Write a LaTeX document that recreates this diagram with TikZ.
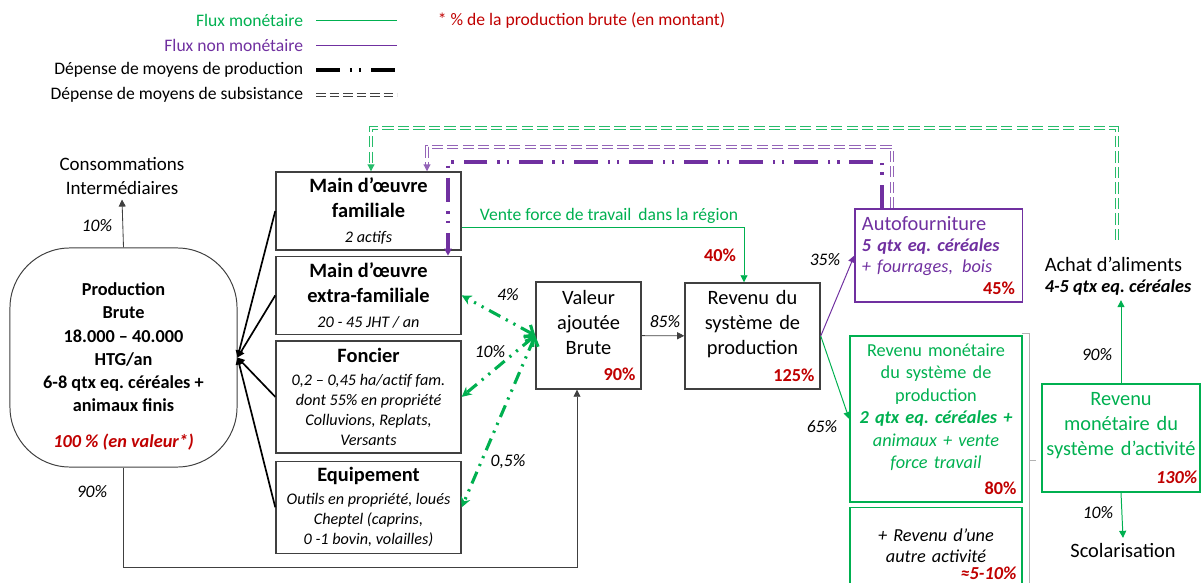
\documentclass[tikz,border=0pt]{standalone}
\usepackage{fontspec}
\setmainfont{Carlito}
\usetikzlibrary{arrows.meta,positioning}
\frenchspacing

\newcommand{\boxttl}[1]{{\fontsize{14.5}{17.5}\selectfont\bfseries\upshape #1}}
\newcommand{\boxsub}[1]{{\fontsize{11.5}{14}\selectfont\itshape #1}}

\begin{document}
\begin{tikzpicture}[
  x=0.025cm, y=-0.025cm,
  font=\fontsize{12.5}{16}\selectfont,
  >={Triangle[length=5pt,width=5pt]},
  box/.style={draw=bgray, line width=1pt, align=center, inner sep=3pt},
  lbox/.style={box, minimum width=4.625cm},
  gbox/.style={box, draw=mgreen, text=mgreen},
  pct/.style={font=\fontsize{12.5}{15}\selectfont\itshape},
  redpct/.style={text=mred, font=\fontsize{13}{15}\selectfont\bfseries},
  flow/.style={draw=bgray, line width=0.6pt},
  monet/.style={draw=mgreen, line width=0.7pt},
  nonmon/.style={draw=mpurple, line width=0.7pt},
  dpp/.style={line width=2.2pt, dash pattern=on 17pt off 7pt on 1.6pt off 5pt on 1.6pt off 7pt},
  dpg/.style={draw=mgreen, line width=2.2pt, dash pattern=on 9pt off 4.5pt on 1.6pt off 4.5pt on 1.6pt off 4.5pt, {Straight Barb[length=5pt,width=10pt]}-{Stealth[length=7pt,width=7pt]}},
  dps/.style={line width=0.8pt, double=white, double distance=1.4pt, dash pattern=on 8pt off 3pt}
]

\definecolor{mgreen}{RGB}{0,176,80}
\definecolor{mpurple}{RGB}{112,48,160}
\definecolor{mred}{RGB}{192,0,0}
\definecolor{bgray}{RGB}{64,64,64}

\useasboundingbox (0,0) rectangle (1203,583);

% Legend
\node[anchor=east, text=mgreen] (lgm) at (308,20) {Flux monétaire};
\node[anchor=east, text=mpurple] (lgn) at (308,45) {Flux non monétaire};
\node[anchor=east] (lgp) at (308,70) {Dépense de moyens de production};
\node[anchor=east] (lgs) at (308,95) {Dépense de moyens de subsistance};
\node[anchor=west, text=mred] (lgr) at (433,20) {* \% de la production brute (en montant)};
\coordinate (lgme) at (397,20);
\coordinate (lgne) at (397,45);
\coordinate (lgpe) at (397,70);
\coordinate (lgse) at (397,95);
\draw[monet] ([xshift=0.2cm]lgm.east) -- (lgme);
\draw[nonmon] ([xshift=0.2cm]lgn.east) -- (lgne);
\draw[dpp] ([xshift=0.2cm]lgp.east) -- (lgpe);
\draw[dps, draw=bgray, dash pattern=on 7pt off 2.6pt] ([xshift=0.2cm]lgs.east) -- (lgse);

% Production brute
\node[box, line width=0.7pt, rounded corners=1.5cm, minimum width=5.675cm, minimum height=5.475cm, font=\fontsize{13}{16.5}\selectfont\bfseries] (prod) at (123.5,357.5)
  {\rule{0pt}{22pt}Production\\Brute\\18.000 – 40.000\\HTG/an\\6-8 qtx eq. céréales +\\animaux finis\\[9pt]\textcolor{mred}{\itshape 100 \% (en valeur*)}};
\node[font=\fontsize{13.5}{17}\selectfont, align=center] (cons) at (122,176) {Consommations\\Intermédiaires};

% Moyens de production
\node[lbox, minimum height=1.95cm, font=\fontsize{14.5}{17.5}\selectfont] (mof) at (368.5,211)
  {\boxttl{Main d’œuvre}\\\boxttl{familiale}\\\boxsub{2 actifs}};
\node[lbox, minimum height=1.95cm, font=\fontsize{14.5}{17.5}\selectfont, below=0.125cm of mof] (mox)
  {\boxttl{Main d’œuvre}\\\boxttl{extra-familiale}\\\boxsub{20 - 45 JHT / an}};
\node[lbox, minimum height=2.8cm, font=\fontsize{11.5}{14.2}\selectfont\itshape, below=0.125cm of mox] (fon)
  {\boxttl{Foncier}\\[2pt]0,2 – 0,45 ha/actif fam.\\dont 55\% en propriété\\Colluvions, Replats,\\Versants};
\node[lbox, minimum height=2.3cm, font=\fontsize{11.5}{14.2}\selectfont\itshape, below=0.175cm of fon] (equ)
  {\boxttl{Equipement}\\[2pt]Outils en propriété, loués\\Cheptel (caprins,\\0 -1 bovin, volailles)};

% Valeur ajoutee et revenus
\node[box, inner xsep=4pt, text width=2.345cm, minimum height=2.675cm, font=\fontsize{14.5}{17.8}\selectfont] (vab) at (588.5,335.5)
  {Valeur\\ajoutée\\Brute\\[1pt]\hspace*{\fill}{\color{mred}\fontsize{13}{15}\selectfont\bfseries 90\%}};
\node[box, inner xsep=4pt, text width=3.095cm, minimum height=2.65cm, font=\fontsize{14.5}{17.8}\selectfont] (rev) at (752.5,336)
  {Revenu du\\système de\\production\\[1pt]\hspace*{\fill}{\color{mred}\fontsize{13}{15}\selectfont\bfseries 125\%}};
\node[box, draw=mpurple, text=mpurple, line width=0.8pt, align=left, inner xsep=5pt, text width=3.825cm, minimum height=2.325cm, font=\fontsize{13}{15}\selectfont] (auto) at (938.5,255.5)
  {{\fontsize{14.5}{15}\selectfont Autofourniture}\\\textbf{\itshape 5 qtx eq. céréales}\\{\itshape + fourrages,\, bois}\\\hspace*{\fill}{\color{mred}\bfseries 45\%}};
\node[gbox, inner xsep=4pt, text width=4.02cm, minimum height=4.15cm, font=\fontsize{13}{16}\selectfont] (rms) at (936,419)
  {Revenu monétaire\\du système de\\production\\\textbf{\itshape 2 qtx eq. céréales +}\\{\itshape animaux + vente}\\{\itshape force travail}\\[2pt]\hspace*{\fill}{\color{mred}\bfseries 80\%}};
\node[gbox, text=black, inner xsep=4pt, text width=4.02cm, minimum height=2.35cm, font=\fontsize{13}{15}\selectfont\itshape, below=0.1cm of rms] (aut)
  {+ Revenu d’une\\autre activité\\[-3pt]\hspace*{\fill}{\color{mred}\bfseries ≈5-10\%}};
\node[gbox, inner xsep=2pt, text width=3.81cm, minimum height=2.7cm, font=\fontsize{14.5}{17.8}\selectfont] (rsa) at (1121,438)
  {Revenu\\monétaire du\\système d’activité\\[2pt]\hspace*{\fill}{\color{mred}\fontsize{13}{15}\selectfont\bfseries\itshape 130\%}};
\node[align=left, font=\fontsize{14.5}{15}\selectfont] (achat) at (1118,276)
  {Achat d’aliments\\{\fontsize{13}{15}\selectfont\bfseries\itshape 4-5 qtx eq. céréales}};
\node[font=\fontsize{14.5}{17}\selectfont] (scol) at (1123,550) {Scolarisation};

% accolade
\draw[draw=gray!60, line width=0.5pt] (1022,333) -- (1029,333) -- (1029,583);
\draw[draw=gray!60, line width=0.5pt] (1029,460) -- (1036,460);

% labels
\node[pct] (p10a) at (97,226) {10\%};
\node[pct] (p90a) at (92,492) {90\%};
\node[pct] (p4) at (508,295) {4\%};
\node[pct] (p10b) at (490,352) {10\%};
\node[pct] (p05) at (508,462) {0,5\%};
\node[pct] (p85) at (665,322) {85\%};
\node[pct] (p35) at (825,260) {35\%};
\node[pct] (p65) at (822,427) {65\%};
\node[pct] (p90b) at (1097,355) {90\%};
\node[pct] (p10c) at (1098,513) {10\%};
\node[redpct] (p40) at (720,255) {40\%};
\node[text=mgreen] (vte) at (609,216) {Vente force de travail\, dans la région};

% flux
\coordinate (bl) at (577,567);
\coordinate (vfa) at (744,227);
\coordinate (pp1) at (882,162);
\coordinate (pp2) at (448,162);
\coordinate (pd1) at (892,147);
\coordinate (pd2) at (427,147);
\coordinate (gd0) at (1117,240);
\coordinate (gd1) at (1117,128);
\coordinate (gd2) at (371,128);

\draw[line width=1.2pt, ->] (mof.west) -- (prod.east);
\draw[line width=1.2pt, ->] (mox.west) -- (prod.east);
\draw[line width=1.2pt, ->] (fon.west) -- (prod.east);
\draw[line width=1.2pt, ->] (equ.west) -- (prod.east);
\draw[flow, ->] (prod.north) -- (cons.south);
\draw[flow, ->] (prod.south) |- (bl) -- (bl |- vab.south);
\draw[flow, ->] (vab) -- (rev);
\draw[dpg] (vab.west) -- (mox.east);
\draw[dpg] (vab.west) -- (fon.east);
\draw[dpg] (vab.west) -- (equ.east);
\draw[monet, ->] (mof.east |- vfa) -- (vfa) -- (vfa |- rev.north);
\draw[nonmon, ->] (rev.east) -- (auto.west);
\draw[monet, ->] (rev.east) -- (rms.west);
\draw[monet, ->] (rsa.north) -- (rsa.north |- achat.south);
\draw[monet, ->] (rsa.south) -- (scol.north);
\draw[dpp, draw=mpurple, ->] (pp1 |- auto.north) -- (pp1) -- (pp2) -- (pp2 |- mox.north);
\draw[dps, draw=mpurple!75, ->] (pd1 |- auto.north) -- (pd1) -- (pd2) -- (pd2 |- mof.north);
\draw[dps, draw=mgreen!85, ->] (gd0) -- (gd1) -- (gd2) -- (gd2 |- mof.north);

\end{tikzpicture}
\end{document}
